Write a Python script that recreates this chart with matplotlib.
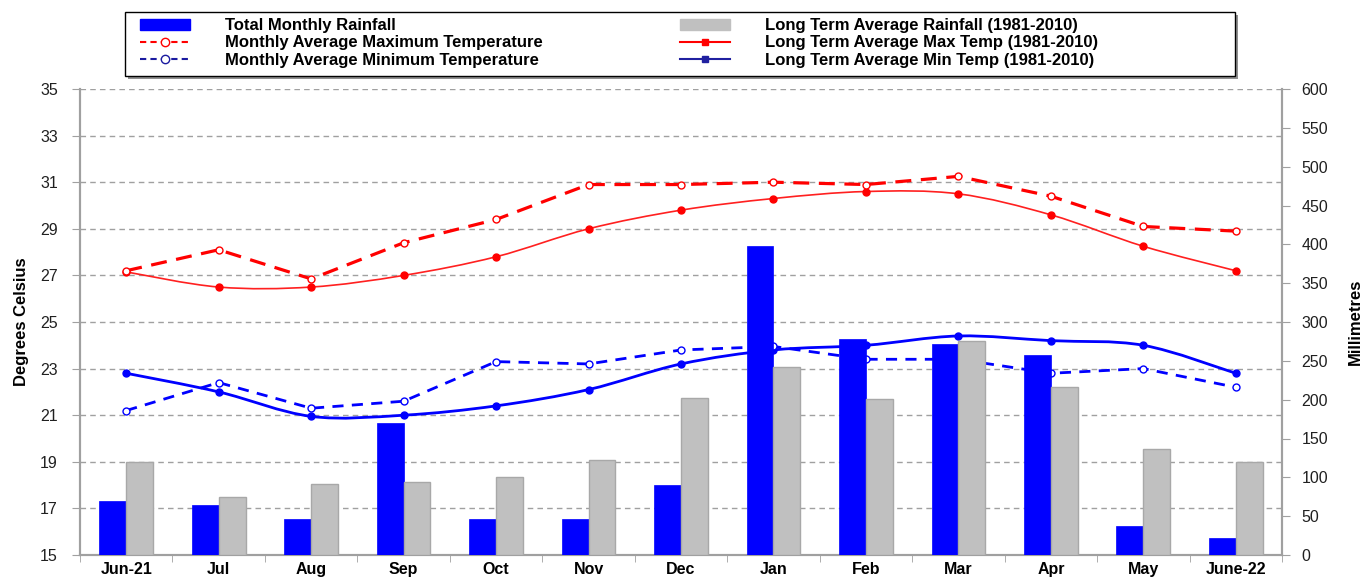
#!/usr/bin/env python3
"""Monthly rainfall and temperature vs long term averages, Jun-21 to June-22."""

import matplotlib.pyplot as plt
import numpy as np
from matplotlib.lines import Line2D
from matplotlib.patches import Patch, PathPatch, Rectangle
from matplotlib.path import Path

months = ["Jun-21", "Jul", "Aug", "Sep", "Oct", "Nov", "Dec",
          "Jan", "Feb", "Mar", "Apr", "May", "June-22"]

rain_total = [70, 64, 46, 170, 46, 46, 90, 398, 278, 272, 257, 37, 22]
rain_lta = [120, 75, 91, 94, 100, 122, 202, 242, 201, 276, 216, 136, 120]

tmax_month = [27.2, 28.1, 26.85, 28.4, 29.4, 30.9, 30.9, 31.0, 30.9, 31.25, 30.4, 29.1, 28.9]
tmax_lta = [27.15, 26.5, 26.5, 27.0, 27.8, 29.0, 29.8, 30.3, 30.6, 30.5, 29.6, 28.25, 27.2]
tmin_month = [21.2, 22.4, 21.3, 21.6, 23.3, 23.2, 23.8, 23.95, 23.4, 23.4, 22.8, 23.0, 22.2]
tmin_lta = [22.8, 22.0, 20.95, 21.0, 21.4, 22.1, 23.2, 23.8, 24.0, 24.4, 24.2, 24.0, 22.8]

temp_ticks = list(range(15, 36, 2))
rain_ticks = list(range(0, 601, 50))

FONT = ["Liberation Sans Narrow", "Liberation Sans", "DejaVu Sans"]
W, H = 1366, 578


def smooth_path(x, y):
    """Catmull-Rom style bezier through the points (like a smoothed Excel line)."""
    x = np.asarray(x, dtype=float)
    y = np.asarray(y, dtype=float)
    verts = [(x[0], y[0])]
    codes = [Path.MOVETO]
    n = len(x)
    for i in range(n - 1):
        p0 = i - 1 if i > 0 else i
        p3 = i + 2 if i + 2 < n else i + 1
        c1 = (x[i] + (x[i + 1] - x[p0]) / 6, y[i] + (y[i + 1] - y[p0]) / 6)
        c2 = (x[i + 1] - (x[p3] - x[i]) / 6, y[i + 1] - (y[p3] - y[i]) / 6)
        verts += [c1, c2, (x[i + 1], y[i + 1])]
        codes += [Path.CURVE4] * 3
    return Path(verts, codes)


def main() -> None:
    fig = plt.figure(figsize=(W / 100, H / 100), dpi=100)
    ax = fig.add_axes([80 / W, 23 / H, 1202 / W, 466 / H])
    ax2 = ax.twinx()

    x = np.arange(len(months))

    # grid at the temperature ticks
    for t in temp_ticks[1:]:
        ax.axhline(t, color="#a0a0a0", linestyle=(0, (4, 3)), linewidth=1.0, zorder=0)

    # long term average lines (smoothed)
    ax.add_patch(PathPatch(smooth_path(x, tmax_lta), facecolor="none", edgecolor="#ff2020",
                           linewidth=1.2, zorder=2))
    ax.plot(x, tmax_lta, linestyle="none", marker="o", markersize=5, color="#ff0000", zorder=3)
    ax.add_patch(PathPatch(smooth_path(x, tmin_lta), facecolor="none", edgecolor="#0000ff",
                           linewidth=2.0, zorder=2))
    ax.plot(x, tmin_lta, linestyle="none", marker="o", markersize=5, color="#0000ff", zorder=3)

    # monthly averages (dashed, open circles)
    ax.plot(x, tmax_month, color="#ff0000", linestyle=(0, (5, 3)), linewidth=2.3,
            marker="o", markersize=5, markerfacecolor="white", markeredgewidth=1.0, zorder=3)
    ax.plot(x, tmin_month, color="#0000ff", linestyle=(0, (4, 3)), linewidth=2.0,
            marker="o", markersize=5, markerfacecolor="white", markeredgewidth=1.0, zorder=3)

    ax.set_xlim(-0.5, len(months) - 0.5)
    ax.set_ylim(15, 35)
    ax.set_yticks(temp_ticks)
    ax.set_xticks(x)
    ax.set_xticklabels(months, fontsize=11.5, fontweight="bold", family=FONT[1:])
    ax.set_xticks(np.arange(len(months) + 1) - 0.5, minor=True)
    ax.tick_params(axis="x", which="major", length=0, pad=5)
    ax.tick_params(axis="x", which="minor", length=5, color="#a0a0a0", direction="out")
    ax.tick_params(axis="y", length=6, color="#a0a0a0", labelsize=11.5, labelcolor="#202020",
                   direction="out", pad=10)
    for lab in ax.get_yticklabels():
        lab.set_family(FONT[1:])
    ax.set_ylabel("Degrees Celsius", fontsize=12, fontweight="bold", family=FONT, labelpad=8)

    # rainfall bars on top of everything
    w = 0.29
    ax2.bar(x - w / 2, rain_total, width=w, color="#0000ff", edgecolor="#0000ff",
            linewidth=0.5, zorder=3)
    ax2.bar(x + w / 2, rain_lta, width=w, color="#c0c0c0", edgecolor="#a8a8a8",
            linewidth=1.0, zorder=3)
    ax2.set_ylim(0, 600)
    ax2.set_yticks(rain_ticks)
    ax2.tick_params(axis="y", length=6, color="#a0a0a0", labelsize=11.5, labelcolor="#202020",
                    direction="out", pad=8)
    for lab in ax2.get_yticklabels():
        lab.set_family(FONT[1:])
    ax2.set_ylabel("Millimetres", fontsize=12, fontweight="bold", family=FONT, labelpad=14)

    for a in (ax, ax2):
        a.spines["top"].set_visible(False)
        for side in ("left", "right", "bottom"):
            a.spines[side].set_color("#a0a0a0")
            a.spines[side].set_linewidth(1.5)

    # legend box with shadow
    fig.patches.append(Rectangle((128 / W, 1 - 79 / H), 1110 / W, 64 / H, transform=fig.transFigure,
                                 facecolor="#909090", edgecolor="none", zorder=0))
    fig.patches.append(Rectangle((125 / W, 1 - 76 / H), 1110 / W, 64 / H, transform=fig.transFigure,
                                 facecolor="white", edgecolor="black", linewidth=1.0, zorder=1))

    handles_left = [
        Patch(facecolor="#0000ff", edgecolor="#0000ff"),
        Line2D([], [], color="#ff0000", linestyle=(0, (3, 2)), linewidth=1.5, marker="o",
               markersize=6, markerfacecolor="white"),
        Line2D([], [], color="#1a1aa0", linestyle=(0, (3, 2)), linewidth=1.5, marker="o",
               markersize=6, markerfacecolor="white"),
    ]
    labels_left = [
        "Total Monthly Rainfall",
        "Monthly Average Maximum Temperature",
        "Monthly Average Minimum Temperature",
    ]
    handles_right = [
        Patch(facecolor="#c0c0c0", edgecolor="#c0c0c0"),
        Line2D([], [], color="#ff0000", linewidth=1.5, marker="s", markersize=5),
        Line2D([], [], color="#2020a0", linewidth=1.5, marker="s", markersize=5),
    ]
    labels_right = [
        "Long Term Average Rainfall (1981-2010)",
        "Long Term Average Max Temp (1981-2010)",
        "Long Term Average Min Temp (1981-2010)",
    ]
    common = dict(loc="upper left", prop={"family": FONT, "weight": "bold", "size": 12},
                  handlelength=3.0, handleheight=0.65, handletextpad=2.1,
                  labelspacing=0.15, borderaxespad=0.0, borderpad=0.0, frameon=False)
    leg1 = fig.legend(handles_left, labels_left, bbox_to_anchor=(140 / W, 1 - 18 / H), **common)
    leg2 = fig.legend(handles_right, labels_right, bbox_to_anchor=(680 / W, 1 - 18 / H), **common)
    leg1.set_zorder(2)
    leg2.set_zorder(2)

    fig.savefig("out.png", dpi=100)
    plt.close(fig)


if __name__ == "__main__":
    main()
